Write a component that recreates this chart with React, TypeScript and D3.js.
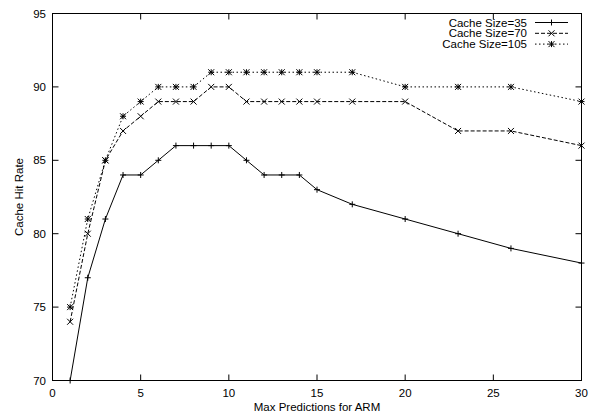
import React from "react";
import * as d3 from "d3";

const xs35 = [1, 2, 3, 4, 5, 6, 7, 8, 9, 10, 11, 12, 13, 14, 15, 17, 20, 23, 26, 30];
const ys35 = [70, 77, 81, 84, 84, 85, 86, 86, 86, 86, 85, 84, 84, 84, 83, 82, 81, 80, 79, 78];
const xs70 = [1, 2, 3, 4, 5, 6, 7, 8, 9, 10, 11, 12, 13, 14, 15, 17, 20, 23, 26, 30];
const ys70 = [74, 80, 85, 87, 88, 89, 89, 89, 90, 90, 89, 89, 89, 89, 89, 89, 89, 87, 87, 86];
const xs105 = [1, 2, 3, 4, 5, 6, 7, 8, 9, 10, 11, 12, 13, 14, 15, 17, 20, 23, 26, 30];
const ys105 = [75, 81, 85, 88, 89, 90, 90, 90, 91, 91, 91, 91, 91, 91, 91, 91, 90, 90, 90, 89];
const seriesNames = ["Cache Size=35", "Cache Size=70", "Cache Size=105"];
const xTicks = [0, 5, 10, 15, 20, 25, 30];
const yTicks = [70, 75, 80, 85, 90, 95];

const W = 594, H = 420;
const L = 52.5, R = 581.5, T = 13.5, B = 380.5;
const FONT = "'Liberation Sans', Arial, Helvetica, sans-serif";
const FS = 11.5;

type Marker = "plus" | "cross" | "star";

function MarkerShape({ cx, cy, type }: { cx: number; cy: number; type: Marker }) {
  const s = 3;
  const plus = `M${cx - s},${cy}H${cx + s}M${cx},${cy - s}V${cy + s}`;
  const cross = `M${cx - s},${cy - s}L${cx + s},${cy + s}M${cx - s},${cy + s}L${cx + s},${cy - s}`;
  const d = type === "plus" ? plus : type === "cross" ? cross : plus + cross;
  return <path d={d} stroke="#000" strokeWidth={1} fill="none" />;
}

export default function App() {
  const x = d3.scaleLinear().domain([0, 30]).range([L, R]);
  const y = d3.scaleLinear().domain([70, 95]).range([B, T]);
  const line = d3
    .line<[number, number]>()
    .x((d) => x(d[0]))
    .y((d) => y(d[1]));

  const series = [
    { xs: xs35, ys: ys35, dash: undefined as string | undefined, marker: "plus" as Marker },
    { xs: xs70, ys: ys70, dash: "4,2", marker: "cross" as Marker },
    { xs: xs105, ys: ys105, dash: "1.5,2.5", marker: "star" as Marker },
  ];

  const tickLen = 6;

  return (
    <svg
      width={W}
      height={H}
      style={{ position: "absolute", left: 0, top: 0, background: "#fff" }}
      fontFamily={FONT}
    >
      <rect x={0} y={0} width={W} height={H} fill="#fff" />
      {xTicks.map((t) => (
        <g key={"xt" + t}>
          <line x1={x(t)} x2={x(t)} y1={B} y2={B - tickLen} stroke="#000" />
          <line x1={x(t)} x2={x(t)} y1={T} y2={T + tickLen} stroke="#000" />
          <text x={x(t)} y={397} textAnchor="middle" fontSize={FS} fill="#000">
            {t}
          </text>
        </g>
      ))}
      {yTicks.map((t) => (
        <g key={"yt" + t}>
          <line x1={L} x2={L + tickLen} y1={y(t)} y2={y(t)} stroke="#000" />
          <line x1={R} x2={R - tickLen} y1={y(t)} y2={y(t)} stroke="#000" />
          <text x={46} y={y(t) + 4} textAnchor="end" fontSize={FS} fill="#000">
            {t}
          </text>
        </g>
      ))}
      {series.map((s, i) => {
        const pts: [number, number][] = s.xs.map((v, j) => [v, s.ys[j]]);
        return (
          <g key={"s" + i}>
            <path d={line(pts) || ""} fill="none" stroke="#000" strokeWidth={1} strokeDasharray={s.dash} />
            {pts.map((p, j) => (
              <MarkerShape key={j} cx={x(p[0])} cy={y(p[1])} type={s.marker} />
            ))}
          </g>
        );
      })}
      <rect x={L} y={T} width={R - L} height={B - T} fill="none" stroke="#000" strokeWidth={1} />
      {series.map((s, i) => {
        const ly = 22.5 + i * 10.8;
        return (
          <g key={"lg" + i}>
            <text x={527} y={ly + 4} textAnchor="end" fontSize={FS} fill="#000">
              {seriesNames[i]}
            </text>
            <line x1={535} x2={568} y1={ly} y2={ly} stroke="#000" strokeDasharray={s.dash} />
            <MarkerShape cx={551.5} cy={ly} type={s.marker} />
          </g>
        );
      })}
      <text x={(L + R) / 2} y={411} textAnchor="middle" fontSize={FS} fill="#000">
        Max Predictions for ARM
      </text>
      <text
        transform={`translate(23,${(T + B) / 2}) rotate(-90)`}
        textAnchor="middle"
        fontSize={FS}
        fill="#000"
      >
        Cache Hit Rate
      </text>
    </svg>
  );
}
